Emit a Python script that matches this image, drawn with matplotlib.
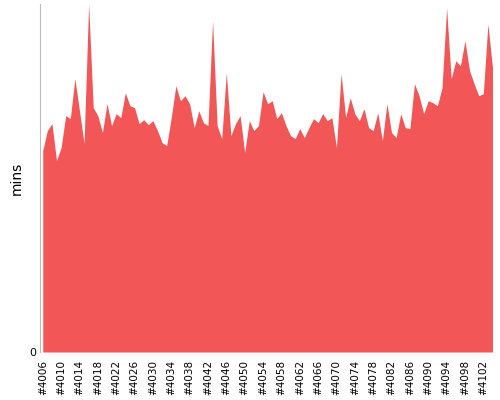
import matplotlib
matplotlib.use("Agg")
import matplotlib.pyplot as plt

tops = [150,130,123,160,147,115,118,78,110,143,3,107,115,132,103,125,113,117,92,105,
        107,123,119,124,120,130,142,145,117,85,100,95,103,127,110,122,125,20,125,138,
        72,135,123,115,152,120,130,125,91,103,100,118,112,125,135,138,128,137,127,118,
        122,113,120,117,147,73,117,97,113,120,108,127,130,112,140,103,132,137,113,127,
        128,83,95,113,100,102,105,87,7,78,60,65,40,70,83,95,93,23,67]
mins = [(352 - t) / 10 for t in tops]
builds = list(range(4006, 4006 + len(mins)))
tick_builds = list(range(4006, 4103, 4))
tick_labels = ["#%d" % b for b in tick_builds]

fig = plt.figure(figsize=(5, 4), dpi=100)
ax = fig.add_axes([0.08, 0.12, 0.905, 0.87])
ax.fill_between(builds, mins, 0, color="#f25656", linewidth=0)
ax.set_xlim(builds[0] - 0.6, builds[-1])
ax.set_ylim(0, 34.9)
ax.set_yticks([0])
ax.set_yticklabels(["0"], fontsize=8)
ax.set_xticks(tick_builds)
ax.set_xticklabels(tick_labels, rotation=90, fontsize=7.5)
ax.tick_params(length=0, pad=3)
ax.tick_params(axis="x", pad=6)
for s in ["top", "right", "bottom"]:
    ax.spines[s].set_visible(False)
ax.spines["left"].set_color("#bbbbbb")
ax.set_ylabel("mins", fontsize=10)
fig.savefig("out.png", dpi=100)
